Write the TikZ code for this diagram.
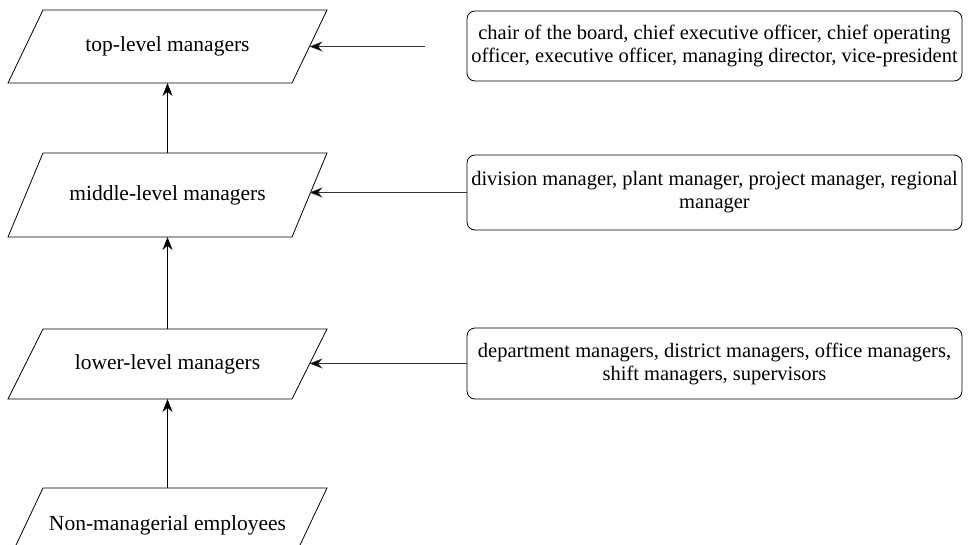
\documentclass[tikz,border=0pt]{standalone}
\usepackage{fontspec}
\setmainfont{Liberation Serif}
\usetikzlibrary{arrows.meta}
\begin{document}
\begin{tikzpicture}[x=1pt,y=-1pt,
  para/.style={rectangle,minimum width=319pt,inner sep=0pt,outer sep=0pt,
    font=\fontsize{21.5}{25}\selectfont},
  outline/.style={draw=black,line width=0.8pt},
  infobox/.style={draw=black,line width=0.8pt,rounded corners=8pt,
    minimum width=495pt,inner sep=0pt,outer sep=0pt,align=center,
    font=\fontsize{20.5}{23}\selectfont},
  uparrow/.style={line width=0.9pt,-{Stealth[length=13pt,width=10pt]}},
  sidearrow/.style={line width=0.6pt,draw=black!80,-{Stealth[length=13pt,width=10pt,fill=black]}}
]
\useasboundingbox (0,0) rectangle (978,544);
\fill[white] (0,0) rectangle (978,544);
\node[para,minimum height=73pt] (top) at (167.5,46.5) {top-level managers};
\node[para,minimum height=84pt] (mid) at (167.5,195) {middle-level managers};
\node[para,minimum height=70pt] (low) at (167.5,364) {lower-level managers};
\node[para,minimum height=74pt] (non) at (167.5,525) {Non-managerial employees};
\foreach \n in {top,mid,low,non}{
  \draw[outline] ([xshift=35pt]\n.north west) -- (\n.north east)
    -- ([xshift=-35pt]\n.south east) -- (\n.south west) -- cycle;
  \coordinate (\n e) at ([xshift=-17.5pt]\n.east);
}

\node[infobox,minimum height=70pt] (btop) at (714.5,46) {chair of the board, chief executive officer, chief operating\\officer, executive officer, managing director, vice-president};
\node[infobox,minimum height=75pt] (bmid) at (714.5,192.5) {division manager, plant manager, project manager, regional\\manager};
\node[infobox,minimum height=71pt] (blow) at (714.5,363.5) {department managers, district managers, office managers,\\shift managers, supervisors};

\coordinate (topfree) at (425,46.5);
\draw[uparrow] (mid.north) -- (top.south);
\draw[uparrow] (low.north) -- (mid.south);
\draw[uparrow] (non.north) -- (low.south);
\draw[sidearrow] (topfree) -- (tope);
\draw[sidearrow] (bmid.west) -- (mide |- bmid.west);
\draw[sidearrow] (blow.west) -- (lowe |- blow.west);
\end{tikzpicture}
\end{document}
